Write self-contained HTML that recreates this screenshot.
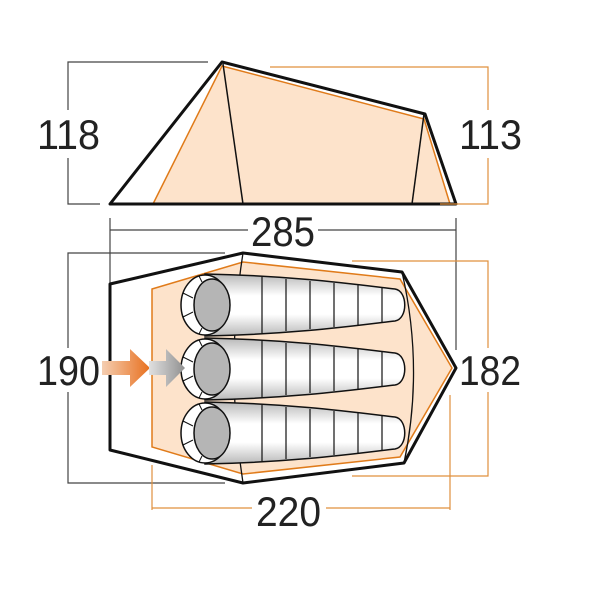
<!DOCTYPE html>
<html><head><style>
html,body{margin:0;padding:0;background:#fff;}
svg{display:block;}
text{font-family:"Liberation Sans",sans-serif;font-size:42px;fill:#222;}
</style></head><body>
<svg width="600" height="600" viewBox="0 0 600 600" xmlns="http://www.w3.org/2000/svg">
<defs>
<linearGradient id="bag" x1="0" y1="0" x2="0" y2="1">
<stop offset="0" stop-color="#b8b8b8"/><stop offset="0.35" stop-color="#fff"/><stop offset="0.65" stop-color="#fff"/><stop offset="1" stop-color="#b8b8b8"/>
</linearGradient>
<linearGradient id="oa" x1="0" y1="0" x2="1" y2="0">
<stop offset="0" stop-color="#f5d2b8"/><stop offset="1" stop-color="#e8701e"/>
</linearGradient>
<linearGradient id="ga" x1="0" y1="0" x2="1" y2="0">
<stop offset="0" stop-color="#e0e0e0"/><stop offset="1" stop-color="#909090"/>
</linearGradient>
<g id="sb">
<path d="M205,-31 C300,-29 360,-20 395,-16 C408,-14 408,14 395,16 C360,20 300,29 205,31 Z" fill="url(#bag)" stroke="#111" stroke-width="1.5"/>
<g stroke="#111" stroke-width="1.2">
<line x1="262" y1="-28" x2="262" y2="28"/><line x1="286" y1="-26" x2="286" y2="26"/>
<line x1="310" y1="-24" x2="310" y2="24"/><line x1="334" y1="-22" x2="334" y2="22"/>
<line x1="358" y1="-20" x2="358" y2="20"/><line x1="382" y1="-17" x2="382" y2="17"/>
</g>
<ellipse cx="205" cy="0" rx="24" ry="30" fill="#fff" stroke="#111" stroke-width="1.5"/>
<path d="M183,-12 L193,-7 M183,12 L193,7 M199,-29 L202,-23 M199,29 L202,23" stroke="#111" stroke-width="1"/>
<ellipse cx="212" cy="0" rx="18" ry="26" fill="#b5b5b5" stroke="#111" stroke-width="1.5"/>
</g>
</defs>
<polygon points="153,204 222,66 424,119 450,204" fill="#fde3cb" stroke="#e07b1a" stroke-width="1.5"/>
<polygon points="110,204 222,62 425,114 456,204" fill="none" stroke="#111" stroke-width="3" stroke-linejoin="round"/>
<line x1="223" y1="64" x2="243" y2="204" stroke="#111" stroke-width="1.5"/>
<line x1="424" y1="114" x2="412" y2="204" stroke="#111" stroke-width="1.5"/>
<polyline points="208,62 68,62 68,204 100,204" fill="none" stroke="#444" stroke-width="1.2"/>
<rect x="30" y="110" width="76" height="48" fill="#fff"/>
<text x="37" y="149" textLength="63" lengthAdjust="spacingAndGlyphs">118</text>
<polyline points="270,67 488,67 488,204 440,204" fill="none" stroke="#e0903e" stroke-width="1.2"/>
<rect x="455" y="110" width="70" height="48" fill="#fff"/>
<text x="459" y="149" textLength="63" lengthAdjust="spacingAndGlyphs">113</text>
<line x1="110" y1="218" x2="110" y2="284" stroke="#444" stroke-width="1.2"/>
<line x1="456" y1="218" x2="456" y2="350" stroke="#444" stroke-width="1.2"/>
<line x1="110" y1="230" x2="456" y2="230" stroke="#444" stroke-width="1.2"/>
<rect x="248" y="210" width="70" height="40" fill="#fff"/>
<text x="251" y="246" textLength="64" lengthAdjust="spacingAndGlyphs">285</text>
<polyline points="225,253 68,253 68,483 225,483" fill="none" stroke="#444" stroke-width="1.2"/>
<polyline points="352,261 488,261 488,476 352,476" fill="none" stroke="#e0903e" stroke-width="1.2"/>
<polygon points="110,284 243,253 402,272 456,368 404,463 243,483 110,450" fill="#fff" stroke="#111" stroke-width="3" stroke-linejoin="round"/>
<polygon points="152,289 243,262 400,279 452,368 400,457 243,474 152,447" fill="#fde3cb" stroke="#e07b1a" stroke-width="1.5"/>
<path d="M243,253 Q225,368 243,483" fill="none" stroke="#111" stroke-width="1.3"/>
<path d="M402,272 Q424,368 404,463" fill="none" stroke="#111" stroke-width="1.3"/>
<use href="#sb" transform="translate(0,305)"/>
<use href="#sb" transform="translate(0,369)"/>
<use href="#sb" transform="translate(0,433)"/>
<polygon points="100,361 130,361 130,349 150,368 130,387 130,375 100,375" fill="url(#oa)"/>
<polygon points="149,361 166,361 166,349 185,368 166,387 166,375 149,375" fill="url(#ga)"/>
<rect x="30" y="348" width="72" height="44" fill="#fff"/>
<text x="37" y="385" textLength="63" lengthAdjust="spacingAndGlyphs">190</text>
<rect x="459" y="348" width="66" height="44" fill="#fff"/>
<text x="459" y="385" textLength="62" lengthAdjust="spacingAndGlyphs">182</text>
<line x1="152" y1="465" x2="152" y2="510" stroke="#e0903e" stroke-width="1.2"/>
<line x1="450" y1="395" x2="450" y2="510" stroke="#e0903e" stroke-width="1.2"/>
<line x1="152" y1="508" x2="450" y2="508" stroke="#e0903e" stroke-width="1.2"/>
<rect x="252" y="490" width="74" height="40" fill="#fff"/>
<text x="256" y="526" textLength="65" lengthAdjust="spacingAndGlyphs">220</text>
</svg>
</body></html>
